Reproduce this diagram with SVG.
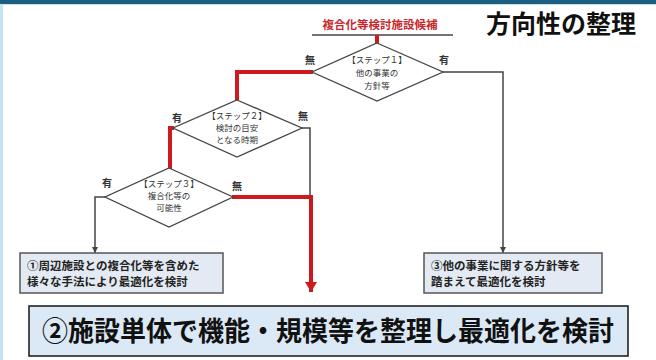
<svg xmlns="http://www.w3.org/2000/svg" width="656" height="360" viewBox="0 0 656 360">
<defs>
<style>
.dia{fill:#ffffff;stroke:#444;stroke-width:1.3}
.dt{font-family:"Noto Sans CJK JP","Noto Sans",sans-serif;font-size:8.5px;fill:#333;text-anchor:middle}
.lbl{font-family:"Noto Sans CJK JP","Noto Sans",sans-serif;font-size:10px;font-weight:bold;fill:#333;text-anchor:middle}
.box{fill:#e3eaf3;stroke:#555;stroke-width:1.5}
.bt{font-family:"Noto Sans CJK JP","Noto Sans",sans-serif;font-size:11.5px;font-weight:bold;fill:#222}
.red{fill:none;stroke:#cc1a1f;stroke-width:4}
.blk{fill:none;stroke:#444;stroke-width:1.5}
</style>
<marker id="ab" markerWidth="8" markerHeight="8" refX="6" refY="4" orient="auto" markerUnits="userSpaceOnUse"><path d="M0,1 L6,4 L0,7 Z" fill="#444"/></marker>
<marker id="ar" markerWidth="14" markerHeight="14" refX="10" refY="6" orient="auto" markerUnits="userSpaceOnUse"><path d="M0,0 L10,6 L0,12 Z" fill="#cc1a1f"/></marker>
</defs>
<rect x="0" y="0" width="656" height="360" fill="#ffffff"/>
<rect x="0" y="0" width="656" height="5" fill="#c5e4f3"/>
<rect x="0" y="0" width="656" height="4" fill="#1b5e80"/>
<rect x="0" y="4" width="3" height="356" fill="#c5e4f3"/>
<text x="561" y="33" font-family="'Noto Sans CJK JP','Noto Sans',sans-serif" font-size="25" font-weight="bold" fill="#111" text-anchor="middle">方向性の整理</text>
<g id="start">
<text x="380" y="29" font-family="'Noto Sans CJK JP','Noto Sans',sans-serif" font-size="11.5" font-weight="bold" fill="#c8282d" text-anchor="middle">複合化等検討施設候補</text>
<line x1="312" y1="35" x2="453" y2="35" stroke="#444" stroke-width="1.3"/>
</g>
<g id="connectors">
<polyline class="red" points="377,35 377,44"/>
<polyline class="red" points="313,72 237,72 237,101"/>
<polyline class="red" points="174,128 170,128 170,169"/>
<polyline class="red" points="232,197 311,197 311,292" marker-end="url(#ar)"/>
<polyline class="blk" points="302,128 310,128 310,195"/>
<polyline class="blk" points="443,72 503,72 503,253" marker-end="url(#ab)"/>
<polyline class="blk" points="105,197 95,197 95,253" marker-end="url(#ab)"/>
</g>
<g id="step1">
<polygon class="dia" points="377,43 443,72 377,101 312,72"/>
<text class="dt" x="377" y="63">【ステップ１】</text>
<text class="dt" x="377" y="76">他の事業の</text>
<text class="dt" x="377" y="89">方針等</text>
<text class="lbl" x="310" y="64">無</text>
<text class="lbl" x="444" y="64">有</text>
</g>
<g id="step2">
<polygon class="dia" points="237,100 302,128 237,157 173,128"/>
<text class="dt" x="237" y="119">【ステップ２】</text>
<text class="dt" x="237" y="131">検討の目安</text>
<text class="dt" x="237" y="143">となる時期</text>
<text class="lbl" x="177" y="122">有</text>
<text class="lbl" x="303" y="120">無</text>
</g>
<g id="step3">
<polygon class="dia" points="169,168 233,197 169,227 105,197"/>
<text class="dt" x="169" y="187">【ステップ３】</text>
<text class="dt" x="169" y="199">複合化等の</text>
<text class="dt" x="169" y="211">可能性</text>
<text class="lbl" x="107" y="187">有</text>
<text class="lbl" x="237" y="190">無</text>
</g>
<g id="box1">
<rect class="box" x="20" y="253" width="203" height="40"/>
<text class="bt" x="27" y="270">①周辺施設との複合化等を含めた</text>
<text class="bt" x="27" y="286">様々な手法により最適化を検討</text>
</g>
<g id="box3">
<rect class="box" x="424" y="253" width="178" height="40"/>
<text class="bt" x="431" y="270">③他の事業に関する方針等を</text>
<text class="bt" x="431" y="286">踏まえて最適化を検討</text>
</g>
<g id="box2">
<rect x="29" y="306" width="599" height="50" fill="#dbe8f5" stroke="#222" stroke-width="1.6"/>
<text x="328" y="341" font-family="'Noto Sans CJK JP','Noto Sans',sans-serif" font-size="27" font-weight="bold" fill="#111" text-anchor="middle" textLength="572" lengthAdjust="spacingAndGlyphs">②施設単体で機能・規模等を整理し最適化を検討</text>
</g>
</svg>
